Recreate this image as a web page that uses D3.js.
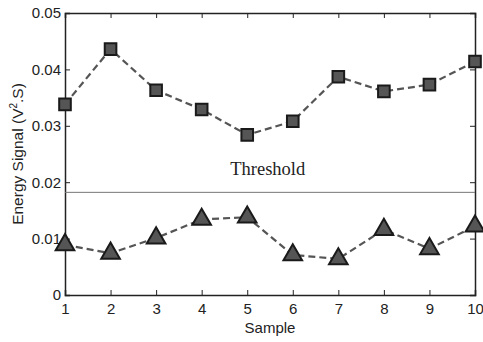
<!DOCTYPE html>
<html>
<head>
<meta charset="utf-8">
<script src="https://cdn.jsdelivr.net/npm/d3@7"></script>
<style>
  body { margin: 0; background: #fff; }
  .tick text { font-family: Arial, "Liberation Sans", sans-serif; font-size: 15px; fill: #222; }
</style>
</head>
<body>
<div id="chart"></div>
<script>
const samples = [1, 2, 3, 4, 5, 6, 7, 8, 9, 10]
const upperSignal = [0.0338, 0.0436, 0.0363, 0.0329, 0.0284, 0.0308, 0.0387, 0.0361, 0.0373, 0.0414]
const lowerSignal = [0.0089, 0.0074, 0.0101, 0.0134, 0.0138, 0.0071, 0.0064, 0.0116, 0.0082, 0.0122]
const threshold = 0.0182
const yTicks = [0, 0.01, 0.02, 0.03, 0.04, 0.05]

const width = 483
const height = 342
const margin = { top: 13, right: 8, bottom: 47, left: 65 }
const w = width - margin.left - margin.right
const h = height - margin.top - margin.bottom

const svg = d3.select('#chart').append('svg')
  .attr('width', width)
  .attr('height', height)

const g = svg.append('g')
  .attr('transform', 'translate(' + margin.left + ',' + margin.top + ')')

const x = d3.scaleLinear().domain([1, 10]).range([0, w])
const y = d3.scaleLinear().domain([0, 0.05]).range([h, 0])

// box axes, ticks pointing inward
const fmt = d => d === 0 ? '0' : d3.format('.2f')(d)
g.append('g').attr('transform', 'translate(0,' + h + ')')
  .call(d3.axisBottom(x).tickValues(samples).tickSize(-5).tickPadding(8).tickFormat(d3.format('d')))
g.append('g')
  .call(d3.axisLeft(y).tickValues(yTicks).tickSize(-5).tickPadding(4).tickFormat(fmt))
g.append('g')
  .call(d3.axisTop(x).tickValues(samples).tickSize(-5).tickFormat(''))
g.append('g').attr('transform', 'translate(' + w + ',0)')
  .call(d3.axisRight(y).tickValues(yTicks).tickSize(-5).tickFormat(''))
g.selectAll('.domain').attr('stroke', '#222').attr('stroke-width', 1.5)
g.selectAll('.tick line').attr('stroke', '#222')

// threshold
g.append('line')
  .attr('x1', 0).attr('x2', w)
  .attr('y1', y(threshold)).attr('y2', y(threshold))
  .attr('stroke', '#777').attr('stroke-width', 1)
g.append('text')
  .attr('x', x(5.45)).attr('y', y(threshold) - 17)
  .attr('text-anchor', 'middle')
  .attr('font-family', '"Liberation Serif", "Times New Roman", serif')
  .attr('font-size', 18.5).attr('fill', '#222')
  .text('Threshold')

const line = d3.line().x((d, i) => x(samples[i])).y(d => y(d))

function series (vals, symbol, size) {
  g.append('path')
    .datum(vals)
    .attr('d', line)
    .attr('fill', 'none')
    .attr('stroke', '#555')
    .attr('stroke-width', 2.2)
    .attr('stroke-dasharray', '7,4')
  g.selectAll(null)
    .data(vals)
    .enter().append('path')
    .attr('transform', (d, i) => 'translate(' + x(samples[i]) + ',' + y(d) + ')')
    .attr('d', d3.symbol().type(symbol).size(size))
    .attr('fill', '#555')
    .attr('stroke', '#1a1a1a')
    .attr('stroke-width', 2)
}
series(upperSignal, d3.symbolSquare, 135)
series(lowerSignal, d3.symbolTriangle, 150)

// labels
svg.append('text')
  .attr('x', margin.left + x(5.5)).attr('y', 333)
  .attr('text-anchor', 'middle')
  .attr('font-family', 'Arial, "Liberation Sans", sans-serif')
  .attr('font-size', 15).attr('fill', '#222')
  .text('Sample')

const yl = svg.append('text')
  .attr('transform', 'translate(23,' + (margin.top + h / 2) + ') rotate(-90)')
  .attr('text-anchor', 'middle')
  .attr('font-family', 'Arial, "Liberation Sans", sans-serif')
  .attr('font-size', 15.5).attr('fill', '#222')
yl.append('tspan').text('Energy Signal (V')
yl.append('tspan').attr('font-size', 10).attr('dy', -6).text('2')
yl.append('tspan').attr('dy', 6).text('.S)')
</script>
</body>
</html>
